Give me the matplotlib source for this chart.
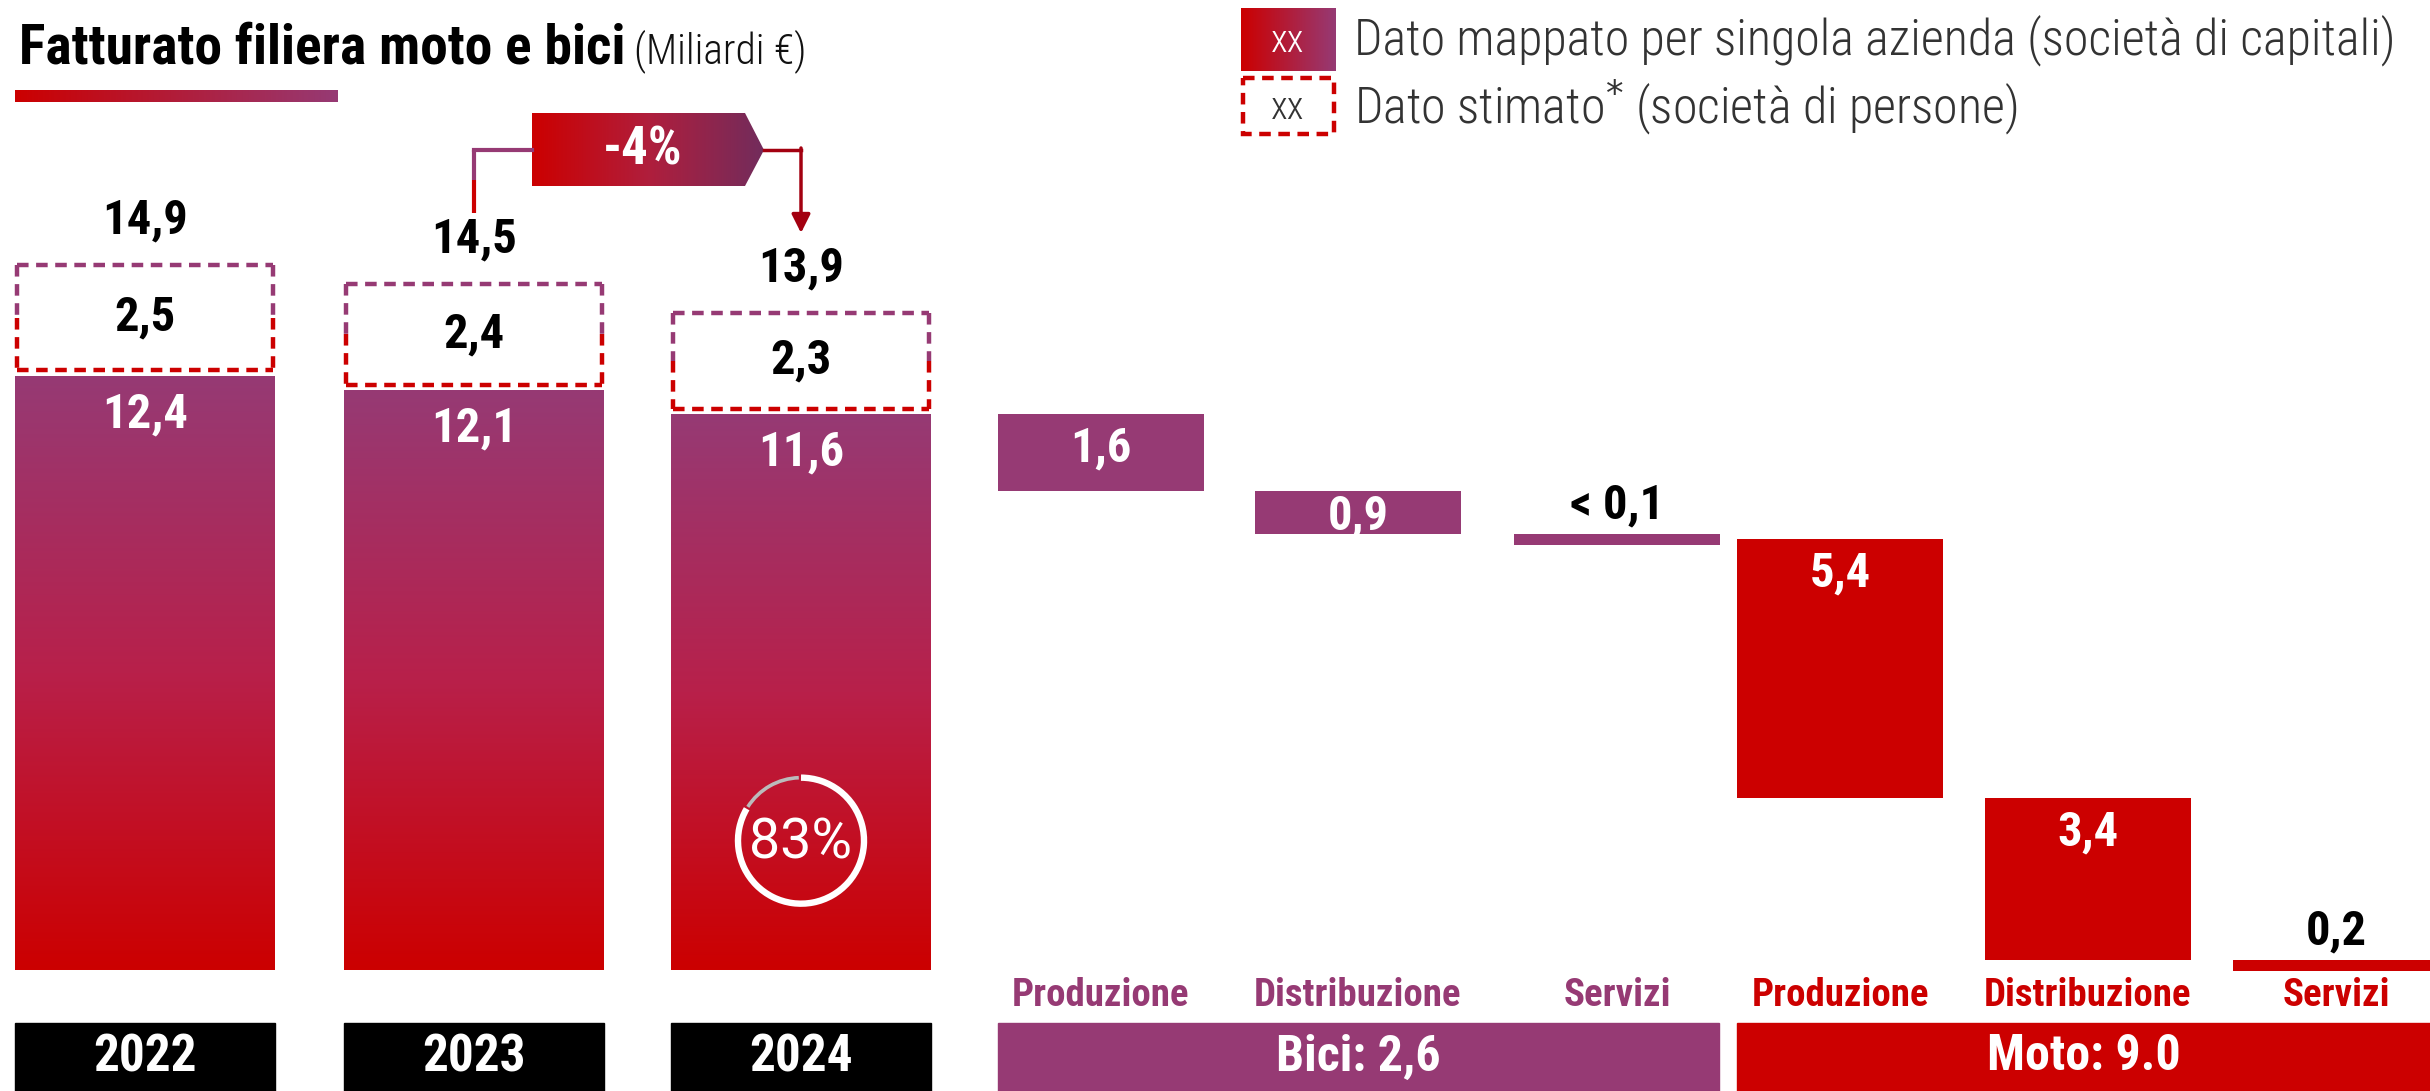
import numpy as np
import matplotlib
matplotlib.use("Agg")
import matplotlib.pyplot as plt
from matplotlib.patches import Rectangle, Polygon, Arc
from matplotlib.colors import LinearSegmentedColormap

plt.rcParams['font.family'] = ['Roboto Condensed', 'Liberation Sans', 'DejaVu Sans']

# Data
years = ['2022', '2023', '2024']
totals = [14.9, 14.5, 13.9]
mapped = [12.4, 12.1, 11.6]
estimated = [2.5, 2.4, 2.3]
total_labels = ['14,9', '14,5', '13,9']
mapped_labels = ['12,4', '12,1', '11,6']
estimated_labels = ['2,5', '2,4', '2,3']

segments = ['Produzione', 'Distribuzione', 'Servizi', 'Produzione', 'Distribuzione', 'Servizi']
segment_values = [1.6, 0.9, 0.1, 5.4, 3.4, 0.2]
segment_labels = ['1,6', '0,9', '< 0,1', '5,4', '3,4', '0,2']
segment_group = [0, 0, 0, 1, 1, 1]
group_labels = ['Bici: 2,6', 'Moto: 9.0']
change_label = '-4%'

# Colours
PURPLE = '#963A74'
RED = '#CC0000'
DARK_PURPLE = '#722C5C'
group_colors = [PURPLE, RED]
grad_v = LinearSegmentedColormap.from_list('v', [RED, '#B8204A', PURPLE])
grad_h = LinearSegmentedColormap.from_list('h', [RED, PURPLE])
grad_tag = LinearSegmentedColormap.from_list('t', [RED, '#B01E3C', DARK_PURPLE])

# Layout (pixels of the 2430x1091 canvas)
W, H = 2430, 1091
BASE = 970      # pixel row of value 0
PPU = 47.9      # pixels per billion
year_x = [15, 344, 671]
year_w = 260
seg_x = [998, 1255, 1514, 1737, 1985, 2233]
seg_w = 206
band_top, band_bot = 1023, 1091
NUM = dict(fontsize=35, weight='bold')

fig = plt.figure(figsize=(W / 100, H / 100), dpi=100)


def pixel_axes():
    a = fig.add_axes([0, 0, 1, 1])
    a.set_xlim(0, W)
    a.set_ylim(H, 0)
    a.set_autoscale_on(False)
    a.axis('off')
    return a


# pixel axes for decoration, data axes for bars, pixel overlay on top
deco = pixel_axes()

ax = fig.add_axes([0, 0, 1, 1])
ax.set_xlim(0, W)
ax.set_ylim(-(H - BASE) / PPU, BASE / PPU)
ax.set_autoscale_on(False)
ax.axis('off')

over = pixel_axes()

vgrad = np.linspace(0, 1, 256).reshape(-1, 1)
hgrad = np.linspace(0, 1, 256).reshape(1, -1)
dash = (0, (2.6, 1.7))

# Title
title = deco.text(19, 63, 'Fatturato filiera moto e bici', fontsize=40, weight='bold', va='baseline')
deco.annotate('(Miliardi €)', xy=(1, 0), xycoords=title, xytext=(6, 1), textcoords='offset points',
              fontsize=30, weight='light', va='bottom', color='#111111')
deco.imshow(hgrad, extent=[15, 338, 102, 90], aspect='auto', cmap=grad_h, zorder=1)

# Legend
deco.imshow(hgrad, extent=[1241, 1336, 71, 8], aspect='auto', cmap=grad_h)
deco.text(1288, 41, 'xx', color='white', fontsize=28, weight='light', ha='center', va='center')
deco.add_patch(Rectangle((1243, 78), 91, 56, fill=False, ec=RED, lw=3.2, ls=dash))
deco.text(1288, 108, 'xx', color='#333333', fontsize=28, weight='light', ha='center', va='center')
deco.text(1354, 40, 'Dato mappato per singola azienda (società di capitali)',
          fontsize=36, weight='light', color='#333333', va='center')
deco.text(1354, 108, 'Dato stimato$^{*}$ (società di persone)',
          fontsize=36, weight='light', color='#333333', va='center')

# Year bars
for i in range(len(years)):
    x0, x1 = year_x[i], year_x[i] + year_w
    cx = (x0 + x1) / 2
    m, t = mapped[i], totals[i]
    ax.imshow(vgrad, extent=[x0, x1, 0, m], origin='lower', aspect='auto', cmap=grad_v, zorder=1)
    # estimated part as dashed box
    y0, y1 = m + 0.12, t - 0.18
    mid = (y0 + y1) / 2
    ax.plot([x0 + 2, x1 - 2], [y1, y1], color=PURPLE, lw=3.2, ls=dash)
    ax.plot([x0 + 2, x1 - 2], [y0, y0], color=RED, lw=3.2, ls=dash)
    for xs in (x0 + 2, x1 - 2):
        ax.plot([xs, xs], [y1, mid], color=PURPLE, lw=3.2, ls=dash)
        ax.plot([xs, xs], [mid, y0], color=RED, lw=3.2, ls=dash)
    ax.text(cx, mid, estimated_labels[i], ha='center', va='center', **NUM)
    ax.text(cx, t + 0.75, total_labels[i], ha='center', va='center', **NUM)
    ax.text(cx, m - 0.8, mapped_labels[i], ha='center', va='center', color='white', zorder=3, **NUM)
    deco.add_patch(Rectangle((x0, band_top), year_w, band_bot - band_top, color='black'))
    deco.text(cx, (band_top + band_bot) / 2, years[i], ha='center', va='center',
              fontsize=37, weight='bold', color='white')

# Share of mapped revenue in last year (ring in pixel space, y points down)
share = mapped[-1] / totals[-1]
ccx = year_x[2] + year_w / 2
ccy = BASE - 2.7 * PPU
r = 63
sweep = share * 360
over.add_patch(Arc((ccx, ccy), 2 * r, 2 * r, theta1=-90, theta2=-90 + sweep,
                   color='white', lw=4.6))
over.add_patch(Arc((ccx, ccy), 2 * r, 2 * r, theta1=-90 + sweep + 2, theta2=268,
                   color='#BBBBBB', lw=2.6))
over.text(ccx, ccy + 2, f'{share:.0%}', ha='center', va='center', fontsize=40,
          family=['Roboto', 'DejaVu Sans'], color='white')

# Change tag between 2023 and 2024
c23 = year_x[1] + year_w / 2
c24 = year_x[2] + year_w / 2
tag = Polygon([(532, 113), (745, 113), (764, 150), (745, 186), (532, 186)], closed=True,
              fc='none', ec='none')
deco.add_patch(tag)
im = deco.imshow(hgrad, extent=[532, 764, 186, 113], aspect='auto', cmap=grad_tag)
im.set_clip_path(tag)
deco.text(643, 150, change_label, ha='center', va='center', fontsize=38, weight='bold', color='white')
deco.plot([532, c23], [150, 150], color=PURPLE, lw=3)
deco.plot([c23, c23], [150, 180], color=PURPLE, lw=3, solid_capstyle='butt')
deco.plot([c23, c23], [180, 213], color=RED, lw=3, solid_capstyle='butt')
deco.plot([764, c24], [150, 150], color='#A30010', lw=2.5)
deco.annotate('', xy=(c24, 233), xytext=(c24, 148),
              arrowprops=dict(arrowstyle='-|>', color='#A30010', lw=2.5,
                              mutation_scale=28, shrinkA=0, shrinkB=0))

# Waterfall of 2024 mapped revenue by segment
level = mapped[-1]
for i, v in enumerate(segment_values):
    h = max(v, 0.22)
    col = group_colors[segment_group[i]]
    x0 = seg_x[i]
    cx = x0 + seg_w / 2
    ax.bar(x0, h, bottom=level - h, width=seg_w, align='edge', color=col, zorder=2)
    if v >= 0.5:
        ax.text(cx, level - min(0.72, 0.6 * v), segment_labels[i], ha='center', va='center',
                color='white', zorder=3, **NUM)
    else:
        ax.text(cx, level + 0.6, segment_labels[i], ha='center', va='center',
                color='black', zorder=3, **NUM)
    deco.text(cx, 996, segments[i], ha='center', va='center', fontsize=28,
              weight='bold', color=col)
    level -= v

# Group bands
for g in range(2):
    idx = [i for i in range(len(segments)) if segment_group[i] == g]
    x0 = seg_x[idx[0]]
    x1 = 1719 if g == 0 else W
    deco.add_patch(Rectangle((x0, band_top), x1 - x0, band_bot - band_top, color=group_colors[g]))
    deco.text((x0 + x1) / 2, (band_top + band_bot) / 2, group_labels[g], ha='center',
              va='center', fontsize=36, weight='bold', color='white')

fig.savefig('out.png', dpi=100)
